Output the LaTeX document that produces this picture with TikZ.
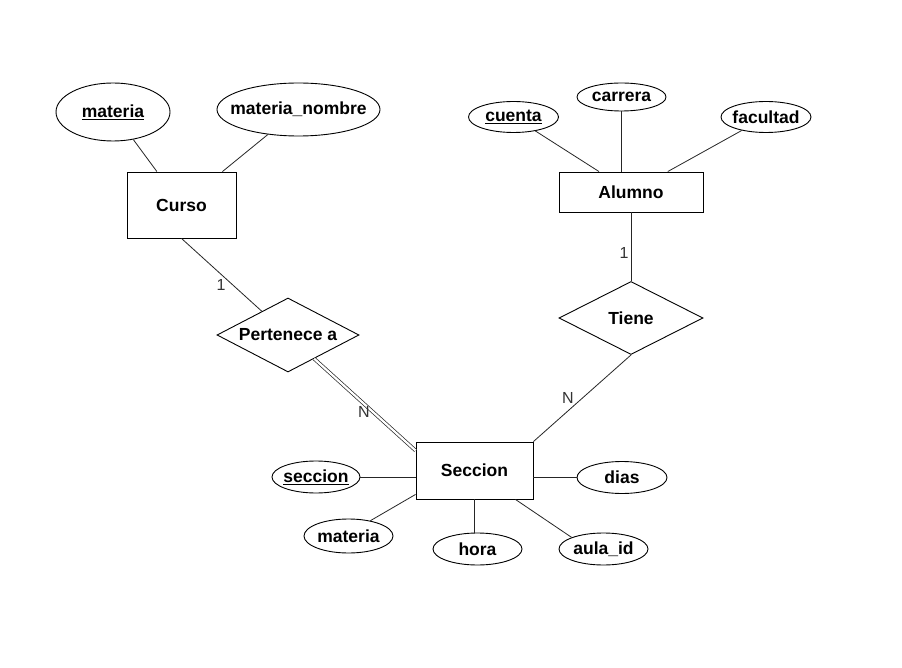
\documentclass[tikz,border=0pt]{standalone}
\usepackage{fontspec}
\setmainfont{Liberation Sans}
\usetikzlibrary{shapes.geometric}
% label of zero width, so the shape keeps the size that is given to it
\newcommand{\zw}[1]{\makebox[0pt]{#1}}
\begin{document}
\begin{tikzpicture}[x=1pt,y=-1pt,
  every node/.style={font=\fontsize{17.5}{20}\selectfont\bfseries},
  entity/.style={draw,rectangle,inner sep=0pt,line width=0.9pt},
  attr/.style={draw,ellipse,inner sep=0pt,line width=0.9pt},
  rel/.style={draw,diamond,inner sep=0pt,line width=0.9pt},
  conn/.style={line width=0.8pt,draw=black!85},
  dbl/.style={line width=0.7pt,draw=black!85,double,double distance=2.2pt},
  card/.style={font=\fontsize{16}{18}\selectfont,text=black!80}]
\useasboundingbox[fill=white] (0,0) rectangle (902,668);

% entities
\node[entity,minimum width=109pt,minimum height=66pt] (curso) at (181.5,205) {Curso};
\node[entity,minimum width=144pt,minimum height=40pt] (alumno) at (631,192) {Alumno};
\node[entity,minimum width=117pt,minimum height=57pt] (seccion) at (474.5,470.5) {Seccion};

% relationships
\node[rel,minimum width=142pt,minimum height=74pt] (pertenece) at (288,335) {\zw{Pertenece a}};
\node[rel,minimum width=144pt,minimum height=73pt] (tiene) at (631,318) {\zw{Tiene}};

% attributes of Curso
\node[attr,minimum width=114pt,minimum height=58pt] (cmateria) at (113,112) {\zw{\underline{materia}}};
\node[attr,minimum width=163pt,minimum height=53pt] (cnombre) at (298.5,109.5) {\zw{materia\_nombre}};

% attributes of Alumno
\node[attr,minimum width=90pt,minimum height=31pt] (cuenta) at (513.5,117) {\zw{\underline{cuenta}}};
\node[attr,minimum width=89pt,minimum height=28pt] (carrera) at (621.5,97) {\zw{carrera}};
\node[attr,minimum width=90pt,minimum height=31pt] (facultad) at (766,117) {\zw{facultad}};

% attributes of Seccion
\node[attr,minimum width=88pt,minimum height=32pt] (secid) at (316,477) {\zw{\underline{seccion}}};
\node[attr,minimum width=90pt,minimum height=32pt] (dias) at (622,477.5) {\zw{dias}};
\node[attr,minimum width=89pt,minimum height=34pt] (smateria) at (348.5,536) {\zw{materia}};
\node[attr,minimum width=89pt,minimum height=32pt] (hora) at (477.5,549) {\zw{hora}};
\node[attr,minimum width=89pt,minimum height=32pt] (aula) at (603.5,549) {\zw{aula\_id}};

% attribute links
\draw[conn] (cmateria) -- (curso);
\draw[conn] (cnombre) -- (curso);
\draw[conn] (cuenta) -- (alumno);
\draw[conn] (carrera.south) -- (carrera.south |- alumno.north);
\draw[conn] (facultad) -- (alumno);
\draw[conn] (secid.east) -- (secid.east -| seccion.west);
\draw[conn] (dias.west) -- (dias.west -| seccion.east);
\draw[conn] (smateria.35) -- ([yshift=5pt]seccion.south west);
\draw[conn] (seccion.south) -- (seccion.south |- hora.north);
\draw[conn] ([xshift=-18pt]seccion.south east) -- (aula.160);

% relationship links
\draw[conn] (curso.south) -- (pertenece);
\draw[dbl] (pertenece) -- ([yshift=-9pt]seccion.north west);
\draw[conn] (alumno.south) -- (tiene.north);
\draw[conn] (seccion.north east) -- (tiene.south);

% cardinalities
\node[card] (c1) at (221,285) {1};
\node[card] (c2) at (624,253) {1};
\node[card] (cn1) at (364,412) {N};
\node[card] (cn2) at (568,398) {N};
\end{tikzpicture}
\end{document}
